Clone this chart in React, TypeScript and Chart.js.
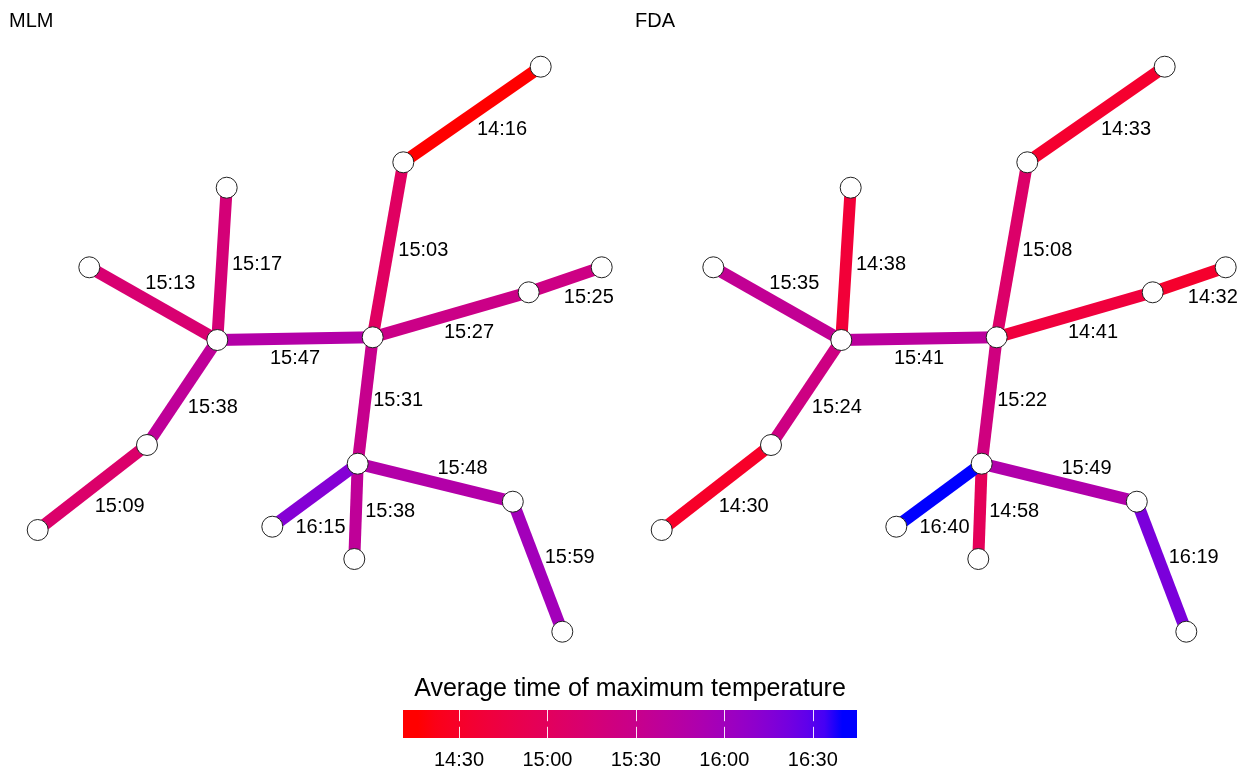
import React, { useEffect, useRef } from "react";
import { Chart, registerables } from "chart.js";

Chart.register(...registerables);

// ---------- data ----------
const nodeX = [540.7, 403.3, 226.7, 89.3, 217.3, 372.7, 528.7, 601.7, 147, 37.7, 357.7, 272.3, 354.3, 512.8, 562.3];
const nodeY = [66.7, 162.3, 187.7, 267.3, 340, 337.3, 292.3, 267.3, 445, 530, 463.7, 526.7, 559, 501.7, 631.7];
const edgeFrom = [0, 1, 2, 3, 4, 5, 6, 4, 8, 5, 10, 10, 10, 13];
const edgeTo = [1, 5, 4, 4, 5, 6, 7, 8, 9, 10, 11, 12, 13, 14];
const mlmTimes = ["14:16", "15:03", "15:17", "15:13", "15:47", "15:27", "15:25", "15:38", "15:09", "15:31", "16:15", "15:38", "15:48", "15:59"];
const fdaTimes = ["14:33", "15:08", "14:38", "15:35", "15:41", "14:41", "14:32", "15:24", "14:30", "15:22", "16:40", "14:58", "15:49", "16:19"];
const labelX = [502, 423.3, 257, 170.3, 295, 469, 588.8, 212.8, 119.7, 398.2, 320.5, 390.2, 462.5, 569.7];
const labelY = [129, 250, 264.3, 283.3, 358.3, 332.7, 297.3, 407.3, 506, 400.7, 527.7, 511.7, 468.3, 557.3];
const panelTitles = ["MLM", "FDA"];
const panelOffsets = [0, 624];
const colorLimits = ["14:16", "16:40"];
const colorbarRange = ["14:11", "16:45"];
const colorbarTicks = ["14:30", "15:00", "15:30", "16:00", "16:30"];
const legendTitle = "Average time of maximum temperature";

const FONT = "'Liberation Sans', Arial, Helvetica, sans-serif";

// ---------- helpers ----------
const toMin = (s: string) => {
  const [h, m] = s.split(":").map(Number);
  return h * 60 + m;
};
const fmt = (v: number) => {
  const h = Math.floor(v / 60);
  const m = Math.round(v - h * 60);
  return `${h}:${m < 10 ? "0" : ""}${m}`;
};

const lin = (c: number) => {
  c /= 255;
  return c <= 0.04045 ? c / 12.92 : Math.pow((c + 0.055) / 1.055, 2.4);
};
const unlin = (c: number) => {
  const v = c <= 0.0031308 ? 12.92 * c : 1.055 * Math.pow(Math.max(c, 0), 1 / 2.4) - 0.055;
  return Math.round(Math.max(0, Math.min(1, v)) * 255);
};
const Xn = 0.95047, Yn = 1, Zn = 1.08883;
const f = (t: number) => (t > 0.008856 ? Math.cbrt(t) : 7.787 * t + 16 / 116);
const finv = (t: number) => (t > 0.206893 ? t * t * t : (t - 16 / 116) / 7.787);
function rgbToLab(rgb: number[]) {
  const R = lin(rgb[0]), G = lin(rgb[1]), B = lin(rgb[2]);
  const X = 0.4124 * R + 0.3576 * G + 0.1805 * B;
  const Y = 0.2126 * R + 0.7152 * G + 0.0722 * B;
  const Z = 0.0193 * R + 0.1192 * G + 0.9505 * B;
  const fx = f(X / Xn), fy = f(Y / Yn), fz = f(Z / Zn);
  return [116 * fy - 16, 500 * (fx - fy), 200 * (fy - fz)];
}
function labToRgb(lab: number[]) {
  const fy = (lab[0] + 16) / 116;
  const fx = fy + lab[1] / 500;
  const fz = fy - lab[2] / 200;
  const X = Xn * finv(fx), Y = Yn * finv(fy), Z = Zn * finv(fz);
  const R = 3.2406 * X - 1.5372 * Y - 0.4986 * Z;
  const G = -0.9689 * X + 1.8758 * Y + 0.0415 * Z;
  const B = 0.0557 * X - 0.204 * Y + 1.057 * Z;
  return `rgb(${unlin(R)},${unlin(G)},${unlin(B)})`;
}
const LOW = rgbToLab([255, 0, 0]);
const HIGH = rgbToLab([0, 0, 255]);
const lo = toMin(colorLimits[0]);
const hi = toMin(colorLimits[1]);
function colorFor(v: number) {
  const t = Math.max(0, Math.min(1, (v - lo) / (hi - lo)));
  return labToRgb([0, 1, 2].map((i) => LOW[i] + (HIGH[i] - LOW[i]) * t));
}

// ---------- datasets ----------
function buildDatasets() {
  const ds: any[] = [];
  [mlmTimes, fdaTimes].forEach((times, p) => {
    const off = panelOffsets[p];
    times.forEach((t, i) => {
      const a = edgeFrom[i], b = edgeTo[i];
      ds.push({
        label: `${panelTitles[p]} edge ${i}`,
        data: [
          { x: nodeX[a] + off, y: nodeY[a] },
          { x: nodeX[b] + off, y: nodeY[b] },
        ],
        showLine: true,
        borderColor: colorFor(toMin(t)),
        borderWidth: 12,
        borderCapStyle: "butt",
        pointRadius: 0,
        pointHoverRadius: 0,
        clip: false,
        order: 1,
      });
    });
  });
  panelOffsets.forEach((off, p) => {
    ds.push({
      label: `${panelTitles[p]} nodes`,
      data: nodeX.map((x, i) => ({ x: x + off, y: nodeY[i] })),
      showLine: false,
      pointRadius: 10.5,
      pointHoverRadius: 10.5,
      pointBackgroundColor: "#ffffff",
      pointBorderColor: "#222222",
      pointBorderWidth: 1,
      clip: false,
      order: 0,
    });
  });
  return ds;
}

const labelsPlugin = {
  id: "edgeLabels",
  afterDatasetsDraw(chart: any) {
    const { ctx, scales } = chart;
    const xs = scales.x, ys = scales.y;
    ctx.save();
    ctx.fillStyle = "#000000";
    ctx.textAlign = "center";
    ctx.textBaseline = "middle";
    ctx.font = `20px ${FONT}`;
    [mlmTimes, fdaTimes].forEach((times, p) => {
      times.forEach((t, i) => {
        ctx.fillText(t, xs.getPixelForValue(labelX[i] + panelOffsets[p]), ys.getPixelForValue(labelY[i]));
      });
    });
    ctx.textAlign = "left";
    ctx.textBaseline = "alphabetic";
    panelTitles.forEach((title, p) => {
      ctx.fillText(title, xs.getPixelForValue(9 + panelOffsets[p] + (p ? 2 : 0)), ys.getPixelForValue(27));
    });
    ctx.restore();
  },
};

const colorbarPlugin = {
  id: "colorbar",
  beforeDatasetsDraw(chart: any) {
    const { ctx, chartArea, scales } = chart;
    const xs = scales.x;
    const x0 = xs.getPixelForValue(lo);
    const x1 = xs.getPixelForValue(hi);
    const grad = ctx.createLinearGradient(x0, 0, x1, 0);
    const n = 24;
    for (let i = 0; i <= n; i++) {
      grad.addColorStop(i / n, colorFor(lo + ((hi - lo) * i) / n));
    }
    ctx.save();
    ctx.fillStyle = grad;
    const h = chartArea.bottom - chartArea.top;
    ctx.fillRect(chartArea.left, chartArea.top, chartArea.right - chartArea.left, h);
    ctx.strokeStyle = "rgba(255,255,255,0.9)";
    ctx.lineWidth = 1;
    colorbarTicks.forEach((t) => {
      const px = Math.round(xs.getPixelForValue(toMin(t))) + 0.5;
      ctx.beginPath();
      ctx.moveTo(px, chartArea.top);
      ctx.lineTo(px, chartArea.top + h * 0.4);
      ctx.moveTo(px, chartArea.bottom - h * 0.4);
      ctx.lineTo(px, chartArea.bottom);
      ctx.stroke();
    });
    ctx.fillStyle = "#000000";
    ctx.font = `25px ${FONT}`;
    ctx.textAlign = "center";
    ctx.textBaseline = "alphabetic";
    ctx.fillText(legendTitle, (chartArea.left + chartArea.right) / 2, chartArea.top - 14);
    ctx.restore();
  },
};

export default function App() {
  const mainRef = useRef<HTMLCanvasElement | null>(null);
  const barRef = useRef<HTMLCanvasElement | null>(null);

  useEffect(() => {
    const main = new Chart(mainRef.current as HTMLCanvasElement, {
      type: "scatter",
      data: { datasets: buildDatasets() },
      options: {
        animation: false,
        responsive: false,
        devicePixelRatio: 1,
        events: [],
        layout: { padding: 0, autoPadding: false },
        plugins: { legend: { display: false }, tooltip: { enabled: false } },
        scales: {
          x: { type: "linear", min: 0, max: 1249, display: false },
          y: { type: "linear", min: 0, max: 771, reverse: true, display: false },
        },
      },
      plugins: [labelsPlugin],
    } as any);

    const bar = new Chart(barRef.current as HTMLCanvasElement, {
      type: "scatter",
      data: { datasets: [{ data: [] }] },
      options: {
        animation: false,
        responsive: false,
        devicePixelRatio: 1,
        events: [],
        layout: { padding: { left: 403, right: 392, top: 50, bottom: 0 }, autoPadding: false },
        plugins: { legend: { display: false }, tooltip: { enabled: false } },
        scales: {
          x: {
            type: "linear",
            min: toMin(colorbarRange[0]),
            max: toMin(colorbarRange[1]),
            afterBuildTicks: (s: any) => {
              s.ticks = colorbarTicks.map((t) => ({ value: toMin(t) }));
            },
            afterFit: (s: any) => {
              s.height = 33;
            },
            ticks: {
              callback: (v: any) => fmt(Number(v)),
              font: { size: 20, family: FONT },
              color: "#000000",
              padding: 10,
              autoSkip: false,
              maxRotation: 0,
            },
            grid: { display: false, drawTicks: false },
            border: { display: false },
          },
          y: { type: "linear", min: 0, max: 1, display: false },
        },
      },
      plugins: [colorbarPlugin],
    } as any);

    return () => {
      main.destroy();
      bar.destroy();
    };
  }, []);

  return (
    <div style={{ position: "absolute", left: 0, top: 0, width: 1249, height: 771, background: "#fff" }}>
      <canvas ref={mainRef} width={1249} height={771} style={{ position: "absolute", left: 0, top: 0 }} />
      <canvas ref={barRef} width={1249} height={111} style={{ position: "absolute", left: 0, top: 660 }} />
    </div>
  );
}
